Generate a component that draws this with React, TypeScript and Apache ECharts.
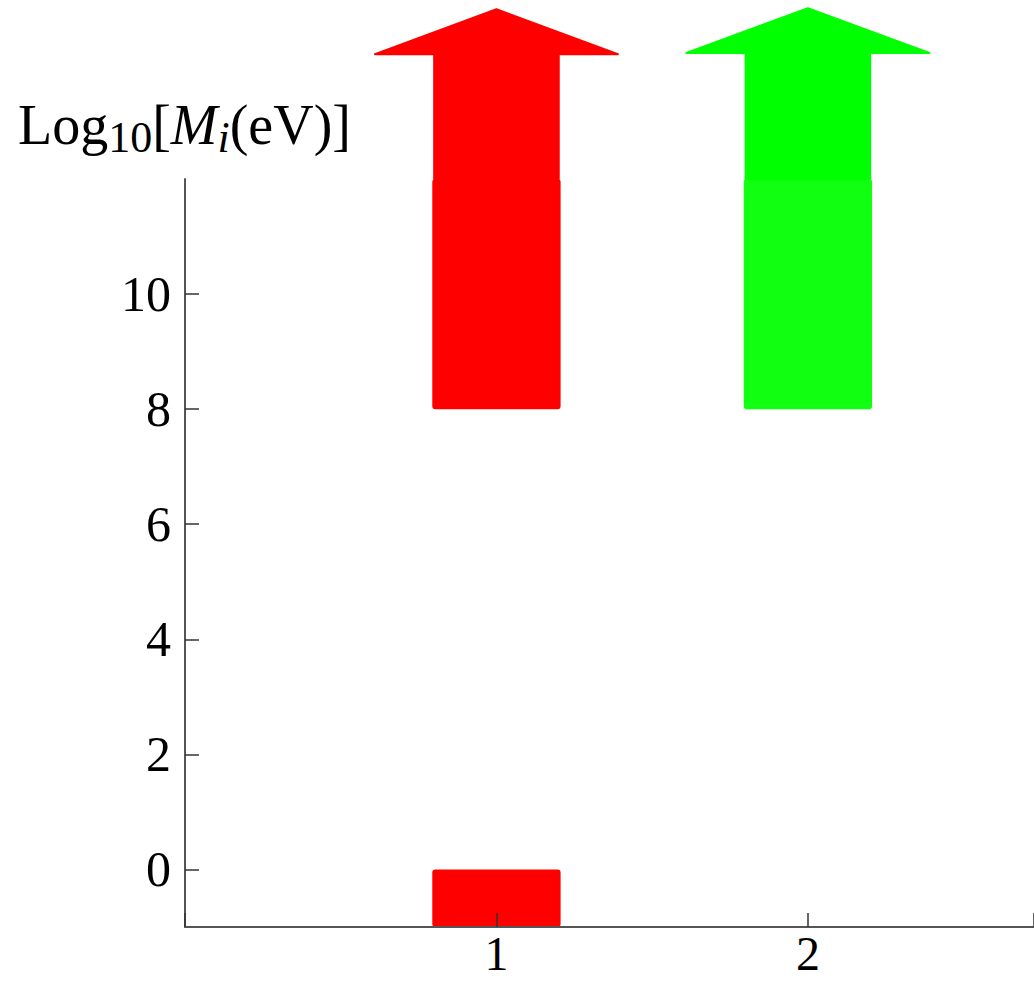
import React, { useEffect, useRef } from "react";
import * as echarts from "echarts";

// Data
const xTicks = [1, 2];
const yTicks = [0, 2, 4, 6, 8, 10];
// [x, low, high] of each bar
const redBars = [
  [1, -1, 0],
  [1, 8, 12],
];
const greenBars = [[2, 8, 12]];
// arrows: [x, base, tip]
const redArrows = [[1, 12, 14.95]];
const greenArrows = [[2, 12, 14.97]];

const FONT = "'Liberation Serif', 'Times New Roman', serif";
const BAR_HALF = 0.206;
const SHAFT_HALF = 0.2;
const HEAD_HALF = 0.39;
const HEAD_LEN = 0.78;

function barRender(color: string) {
  return (params: any, api: any) => {
    const x = api.value(0);
    const lo = api.value(1);
    const hi = api.value(2);
    const p1 = api.coord([x - BAR_HALF, hi]);
    const p2 = api.coord([x + BAR_HALF, lo]);
    return {
      type: "rect",
      shape: { x: p1[0], y: p1[1], width: p2[0] - p1[0], height: p2[1] - p1[1], r: 3 },
      style: { fill: color },
    };
  };
}

function arrowRender(color: string) {
  return (params: any, api: any) => {
    const x = api.value(0);
    const base = api.value(1);
    const tip = api.value(2);
    const hb = tip - HEAD_LEN;
    const pts = [
      api.coord([x - SHAFT_HALF, base]),
      api.coord([x - SHAFT_HALF, hb]),
      api.coord([x - HEAD_HALF, hb]),
      api.coord([x, tip]),
      api.coord([x + HEAD_HALF, hb]),
      api.coord([x + SHAFT_HALF, hb]),
      api.coord([x + SHAFT_HALF, base]),
    ];
    return {
      type: "polygon",
      shape: { points: pts },
      style: { fill: color, stroke: color, lineWidth: 2, lineJoin: "round" },
    };
  };
}

export default function App() {
  const ref = useRef<HTMLDivElement>(null);
  useEffect(() => {
    if (!ref.current) return;
    const chart = echarts.init(ref.current, undefined, { renderer: "svg" });
    const option: any = {
      animation: false,
      backgroundColor: "#ffffff",
      grid: { left: 185, width: 849, top: 179, height: 748, containLabel: false },
      xAxis: {
        type: "value",
        min: 0,
        max: 2.726,
        interval: 1,
        z: 10,
        splitLine: { show: false },
        axisLine: { show: true, onZero: false, lineStyle: { color: "#555555", width: 2 } },
        axisTick: { show: true, inside: true, length: 14, lineStyle: { color: "#333333", width: 1.5 } },
        axisLabel: {
          show: true,
          margin: 5,
          fontFamily: FONT,
          fontSize: 48,
          lineHeight: 42,
          color: "#000000",
          customValues: xTicks,
          formatter: (v: number) => (xTicks.includes(v) ? String(v) : ""),
        },
        axisPointer: { show: false },
      },
      yAxis: {
        type: "value",
        min: -1,
        max: 12,
        z: 10,
        splitLine: { show: false },
        axisLine: { show: true, onZero: false, lineStyle: { color: "#555555", width: 2 } },
        axisTick: { show: true, inside: true, length: 14, customValues: yTicks, lineStyle: { color: "#333333", width: 1.5 } },
        axisLabel: {
          show: true,
          margin: 14,
          fontFamily: FONT,
          fontSize: 50,
          color: "#000000",
          customValues: yTicks,
        },
      },
      series: [
        { type: "custom", name: "red", renderItem: barRender("#ff0000"), data: redBars, clip: false, z: 2 },
        { type: "custom", name: "green", renderItem: barRender("#11ff11"), data: greenBars, clip: false, z: 2 },
        { type: "custom", name: "redArrow", renderItem: arrowRender("#ff0000"), data: redArrows, clip: false, z: 3 },
        { type: "custom", name: "greenArrow", renderItem: arrowRender("#00ff00"), data: greenArrows, clip: false, z: 3 },
      ],
      graphic: [
        {
          type: "text",
          left: 18,
          top: 97,
          style: {
            text: "{m|Log}{s|10}{m|[}{i|M}{si|i}{m|(eV)]}",
            rich: {
              m: { fontFamily: FONT, fontSize: 56, color: "#000", verticalAlign: "top", lineHeight: 62 },
              i: { fontFamily: FONT, fontSize: 56, fontStyle: "italic", color: "#000", verticalAlign: "top", lineHeight: 62 },
              s: { fontFamily: FONT, fontSize: 44, color: "#000", verticalAlign: "top", padding: [18, 0, 0, 0], lineHeight: 62 },
              si: { fontFamily: FONT, fontSize: 44, fontStyle: "italic", color: "#000", verticalAlign: "top", padding: [18, 0, 0, 0], lineHeight: 62 },
            },
          },
        },
      ],
    };
    chart.setOption(option);
    return () => chart.dispose();
  }, []);
  return (
    <div
      ref={ref}
      style={{ position: "absolute", left: 0, top: 0, width: 1034, height: 981, background: "#fff" }}
    />
  );
}
